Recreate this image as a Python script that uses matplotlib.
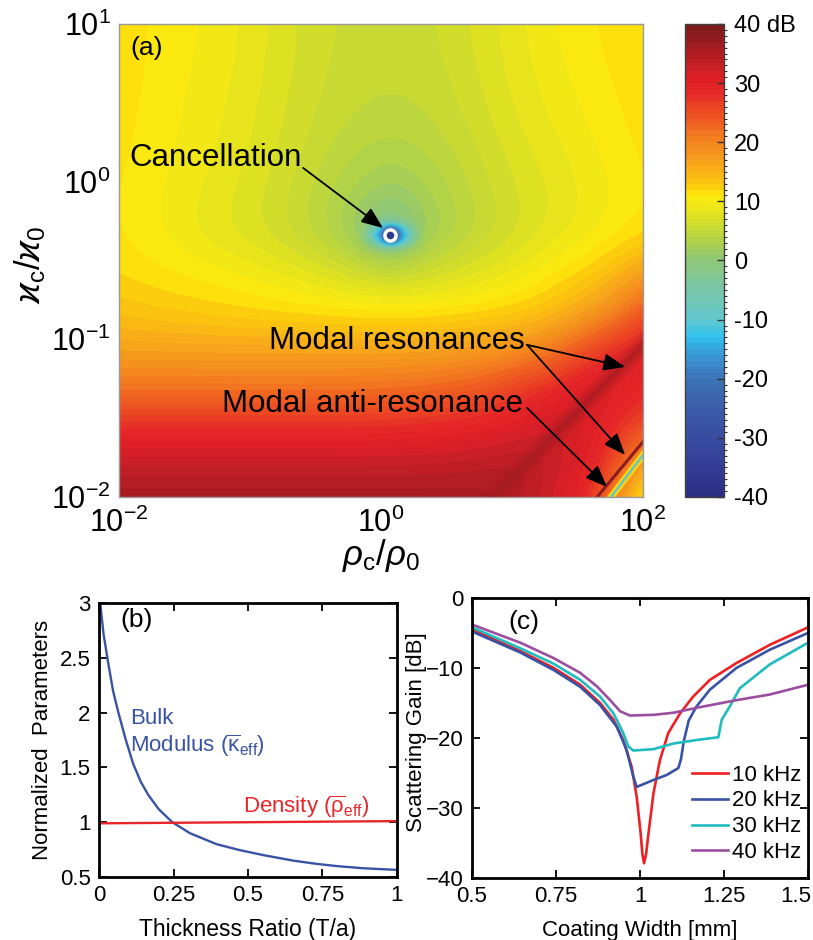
import numpy as np
import matplotlib
matplotlib.use("Agg")
import matplotlib.pyplot as plt
from matplotlib.colors import LinearSegmentedColormap, ListedColormap, BoundaryNorm
from matplotlib.ticker import FuncFormatter
from matplotlib.transforms import ScaledTranslation

plt.rcParams['font.family'] = ['Liberation Sans', 'DejaVu Sans']
plt.rcParams['mathtext.fontset'] = 'custom'
plt.rcParams['mathtext.rm'] = 'Liberation Sans'
plt.rcParams['mathtext.it'] = 'Liberation Sans:italic'
plt.rcParams['mathtext.bf'] = 'Liberation Sans:bold'
plt.rcParams['mathtext.fallback'] = 'stixsans'

# ── (a) scattering gain map, dB, read on a log10 grid ─────────────────────────
grid_log_rho = [-2.18, -1.93, -1.68, -1.43, -1.18, -0.93, -0.68, -0.43, -0.18,
                0.07, 0.32, 0.57, 0.82, 1.07, 1.32, 1.57, 1.82, 2.07]
grid_log_kappa = [1.16, 0.91, 0.66, 0.41, 0.16, -0.09, -0.34, -0.59, -0.84,
                  -1.09, -1.34, -1.59, -1.84, -2.09]          # top -> bottom
gain_map = [
    [12.3, 11.5, 10.65, 10.1, 9.4, 8.35, 7.15, 6.2, 5.7, 5.5, 5.7, 6.5, 7.65, 8.85, 9.95, 10.75, 11.5, 12.2],
    [12.3, 11.5, 10.65, 10.1, 9.4, 8.35, 7.15, 6.2, 5.6, 5.4, 5.6, 6.5, 7.65, 8.85, 9.95, 10.75, 11.5, 12.2],
    [12.2, 11.4, 10.55, 9.95, 9.2, 8.15, 6.95, 6.0, 5.4, 5.2, 5.4, 6.15, 7.35, 8.55, 9.6, 10.45, 11.2, 11.95],
    [12.0, 11.2, 10.45, 9.75, 8.95, 7.9, 6.75, 5.7, 4.9, 4.6, 4.9, 5.75, 6.95, 8.2, 9.2, 10.1, 10.9, 11.7],
    [11.8, 11.0, 10.3, 9.5, 8.7, 7.6, 6.4, 5.0, 3.9, 3.3, 3.8, 5.0, 6.3, 7.6, 8.6, 9.6, 10.5, 11.4],
    [11.5, 10.8, 10.0, 9.15, 8.2, 7.1, 5.85, 4.25, 2.6, 1.0, 2.55, 4.15, 5.8, 7.05, 8.1, 9.2, 10.2, 11.1],
    [11.5, 10.8, 10.0, 9.0, 8.0, 7.1, 5.7, 4.0, 1.0, -4.0, 1.2, 3.7, 5.5, 7.0, 8.4, 9.5, 10.7, 11.8],
    [12.2, 11.8, 11.2, 10.8, 10.3, 9.6, 8.8, 7.8, 6.6, 5.8, 6.4, 7.3, 8.4, 9.5, 11.0, 12.3, 14.5, 18.0],
    [14.0, 13.6, 13.1, 12.7, 12.3, 12.0, 11.7, 11.5, 11.3, 11.2, 11.3, 11.6, 12.0, 12.6, 14.0, 16.5, 20.5, 26.0],
    [17.0, 17.0, 17.0, 17.0, 17.0, 17.0, 17.0, 17.0, 17.0, 17.0, 17.2, 17.6, 18.3, 19.5, 22.0, 26.0, 30.0, 31.0],
    [22.0, 22.0, 22.0, 22.0, 22.0, 22.0, 22.0, 22.0, 22.2, 22.5, 23.0, 23.8, 25.0, 27.5, 29.5, 32.0, 30.5, 28.0],
    [29.0, 29.0, 29.0, 29.0, 29.0, 29.0, 29.0, 29.0, 29.0, 29.2, 29.5, 30.0, 30.3, 31.5, 33.0, 31.0, 27.5, 24.0],
    [34.0, 34.0, 34.0, 34.0, 34.0, 34.0, 34.0, 34.0, 34.0, 34.0, 34.0, 34.2, 34.8, 35.0, 32.5, 30.5, 24.0, 10.0],
    [36.5, 36.5, 36.5, 36.5, 36.5, 36.5, 36.5, 36.5, 36.5, 36.5, 36.5, 36.5, 35.5, 34.0, 31.5, 28.5, 15.0, 8.0],
]

# fine read of the cancellation dip (log10 coords, dB) and its blend weight
halo_log_rho = [-0.17, -0.09, -0.01, 0.07, 0.15, 0.23, 0.31]
halo_log_kappa = [-0.22, -0.28, -0.34, -0.40, -0.46]          # top -> bottom
halo_gain = [
    [-1.0, -2.0, -3.0, -3.5, -3.0, -2.0, -1.0],
    [-3.0, -6.0, -10.0, -14.0, -10.0, -6.0, -3.0],
    [-5.0, -10.0, -16.0, -45.0, -16.0, -10.0, -5.0],
    [-2.0, -5.0, -9.0, -13.0, -9.0, -5.0, -2.0],
    [1.5, 0.5, -1.0, -2.0, -1.0, 0.5, 1.5],
]
halo_weight = [
    [0, 0, 0, 0, 0, 0, 0],
    [0, 0.5, 1, 1, 1, 0.5, 0],
    [0, 1, 1, 1, 1, 1, 0],
    [0, 0.5, 1, 1, 1, 0.5, 0],
    [0, 0, 0, 0, 0, 0, 0],
]
cancel_log_rho, cancel_log_kappa = 0.07, -0.34

# modal features (log10 coords) and their levels in dB
res1_log_rho = [0.80, 2.10]
res1_log_kappa = [-2.05, -0.95]
res2_log_rho = [1.60, 2.05]
res2_log_kappa = [-2.05, -1.60]
anti_log_rho = [1.71, 2.05]
anti_log_kappa = [-2.05, -1.68]
res1_gain, res2_gain, anti_edge_gain, anti_core_gain = 36.5, 38.0, 12.0, -8.0

# colour scale anchors (dB -> colour)
cbar_db = [-40, -35, -30, -25, -20, -16, -13, -10, -5, 0, 3, 5, 7, 10, 11,
           12, 14, 15.5, 17.5, 20, 23, 26, 29, 31, 33, 35.5, 40]
cbar_hex = ['#2b2c83', '#333e95', '#394ca0', '#3b5daa', '#3c73b8', '#3a98d5',
            '#2ec3f0', '#62c8d0', '#78c6a8', '#8fc77a', '#abd04f', '#c3d838',
            '#d8df27', '#f6ea13', '#fee80c', '#fdd60b', '#fbbf12', '#f9ae18',
            '#f69c1d', '#f4851f', '#f06422', '#ec4425', '#e52628', '#dc1f26',
            '#c81f26', '#ab1c22', '#7a1a1c']
cbar_ticks = [-40, -30, -20, -10, 0, 10, 20, 30, 40]
cbar_labels = ['-40', '-30', '-20', '-10', '0', '10', '20', '30', '40 dB']

# ── (b) normalized parameters ────────────────────────────────────────────────
thickness_bulk = [0.004, 0.015, 0.031, 0.047, 0.065, 0.09, 0.115, 0.14, 0.165,
                  0.2, 0.246, 0.305, 0.394, 0.473, 0.551, 0.651, 0.73, 0.797,
                  0.886, 1.0]
bulk_modulus = [3.0, 2.72, 2.45, 2.2, 2.0, 1.75, 1.53, 1.37, 1.25, 1.12, 1.0,
                0.9, 0.8, 0.745, 0.7, 0.65, 0.62, 0.6, 0.58, 0.565]
thickness_rho = [0.0, 0.25, 0.5, 0.75, 1.0]
density = [0.99, 0.995, 1.0, 1.005, 1.01]

# ── (c) scattering gain vs coating width ─────────────────────────────────────
w10 = [0.5, 0.644, 0.743, 0.822, 0.881, 0.921, 0.95, 0.975, 0.99, 1.002, 1.007,
       1.012, 1.018, 1.025, 1.04, 1.059, 1.084, 1.119, 1.158, 1.208, 1.287,
       1.386, 1.5]
g10 = [-4.5, -7.6, -10.0, -12.4, -15.0, -17.4, -20.3, -24.1, -28.4, -33.7,
       -36.6, -37.9, -36.6, -33.7, -27.9, -23.2, -19.3, -16.5, -14.1, -11.7,
       -9.3, -6.7, -4.2]
w20 = [0.5, 0.644, 0.743, 0.822, 0.881, 0.931, 0.96, 0.98, 0.99, 1.04, 1.079,
       1.114, 1.122, 1.13, 1.145, 1.168, 1.208, 1.287, 1.386, 1.5]
g20 = [-4.8, -7.8, -10.3, -12.7, -15.3, -18.4, -21.7, -25.5, -27.0, -26.0,
       -25.3, -24.3, -23.0, -20.5, -17.5, -15.5, -13.1, -10.0, -7.4, -5.0]
w30 = [0.5, 0.644, 0.743, 0.822, 0.881, 0.921, 0.95, 0.965, 0.98, 1.04, 1.099,
       1.168, 1.233, 1.243, 1.267, 1.297, 1.386, 1.5]
g30 = [-4.2, -7.2, -9.4, -11.7, -14.1, -16.5, -19.3, -21.2, -21.8, -21.6,
       -20.8, -20.3, -19.9, -17.4, -15.5, -12.9, -9.5, -6.4]
w40 = [0.5, 0.644, 0.743, 0.822, 0.871, 0.911, 0.941, 0.97, 1.04, 1.099, 1.168,
       1.287, 1.386, 1.5]
g40 = [-3.8, -6.4, -8.6, -10.7, -12.6, -14.6, -16.2, -16.8, -16.7, -16.4, -15.7,
       -14.6, -13.8, -12.4]
freq_labels = ['10 kHz', '20 kHz', '30 kHz', '40 kHz']
freq_colors = ['#ed2024', '#3953a4', '#1fbcbf', '#9b4ea0']

# ── colour map: 1 dB bands ────────────────────────────────────────────────────
pos = [(v + 40) / 80 for v in cbar_db]
base = LinearSegmentedColormap.from_list('gain', list(zip(pos, cbar_hex)))
levels = np.arange(-40, 41, 1)
band_cmap = ListedColormap(base((levels[:-1] + 40.5) / 80))
band_cmap.set_under('white')
band_cmap.set_over(base(1.0))
norm = BoundaryNorm(levels, band_cmap.N)


def db_color(v):
    return base((v + 40) / 80)


def cell_extent(xs, ys):
    hx = abs(xs[1] - xs[0]) / 2
    hy = abs(ys[0] - ys[1]) / 2
    return (xs[0] - hx, xs[-1] + hx, ys[-1] - hy, ys[0] + hy)


fig = plt.figure(figsize=(8.13, 9.40), dpi=100)

# ── panel (a) ────────────────────────────────────────────────────────────────
ax = fig.add_axes([0.1464, 0.4713, 0.6445, 0.5032])
im = ax.imshow(np.array(gain_map), origin='upper', aspect='auto',
               extent=cell_extent(grid_log_rho, grid_log_kappa),
               cmap=band_cmap, norm=norm, interpolation='bicubic',
               interpolation_stage='data')
ax.imshow(np.array(halo_gain), origin='upper', aspect='auto',
          extent=cell_extent(halo_log_rho, halo_log_kappa),
          alpha=np.array(halo_weight, dtype=float),
          cmap=band_cmap, norm=norm, interpolation='bicubic',
          interpolation_stage='data')

# broad first modal resonance, soft edges
for lw, al in [(16, 0.12), (11, 0.2), (6, 0.3), (3, 0.35)]:
    ax.plot(res1_log_rho, res1_log_kappa, color=db_color(res1_gain), lw=lw,
            alpha=al, solid_capstyle='butt')
# anti-resonance and second resonance
ax.plot(anti_log_rho, anti_log_kappa, color=db_color(anti_edge_gain),
        lw=5, solid_capstyle='butt')
ax.plot(anti_log_rho, anti_log_kappa, color=db_color(anti_core_gain),
        lw=1.8, solid_capstyle='butt')
ax.plot(res2_log_rho, res2_log_kappa, color=db_color(res2_gain),
        lw=2.2, solid_capstyle='butt')
ax.plot([cancel_log_rho], [cancel_log_kappa], 'o', ms=8, mfc='#2e3a90',
        mec='white', mew=2.5)

ax.set_xlim(-2, 2)
ax.set_ylim(-2, 1)
ax.set_xticks([-2, 0, 2])
ax.set_yticks([-2, -1, 0, 1])
pow_fmt = FuncFormatter(lambda v, p: r'$\mathregular{10^{%d}}$' % round(v))
ax.xaxis.set_major_formatter(pow_fmt)
ax.yaxis.set_major_formatter(pow_fmt)
ax.tick_params(length=0, labelsize=22)
ax.tick_params(axis='x', pad=8)
ax.tick_params(axis='y', pad=6)
for s in ax.spines.values():
    s.set_color('#9a9a9a')
    s.set_linewidth(1)
ax.set_xlabel(r'$\rho_\mathregular{c}/\rho_\mathregular{0}$', fontsize=25)
ax.xaxis.set_label_coords(0.5, -0.085)
ax.set_ylabel(r'$\varkappa_\mathregular{c}/\varkappa_\mathregular{0}$', fontsize=25)
ax.yaxis.set_label_coords(-0.135, 0.49)

ax.text(0.021, 0.949, '(a)', transform=ax.transAxes, fontsize=19,
        ha='left', va='center')

arrow = dict(arrowstyle='-|>,head_length=0.6,head_width=0.24', color='black',
             lw=1.3, shrinkA=0, shrinkB=0, mutation_scale=22)
ax.text(-0.603, 0.15, 'Cancellation', fontsize=22.5, ha='right', va='center')
ax.annotate('', xy=(0.015, -0.294), xytext=(-0.595, 0.087), arrowprops=arrow)
ax.text(1.10, -1.01, 'Modal resonances', fontsize=22.5, ha='right', va='center')
ax.annotate('', xy=(1.863, -1.175), xytext=(1.115, -1.035), arrowprops=arrow)
ax.annotate('', xy=(1.863, -1.733), xytext=(1.115, -1.035), arrowprops=arrow)
ax.text(1.084, -1.41, 'Modal anti-resonance', fontsize=22.5, ha='right',
        va='center')
ax.annotate('', xy=(1.725, -1.936), xytext=(1.115, -1.435), arrowprops=arrow)

# colour bar
cax = fig.add_axes([0.8426, 0.4713, 0.048, 0.5032])
cb = fig.colorbar(im, cax=cax, ticks=cbar_ticks)
cb.ax.set_yticklabels(cbar_labels)
cb.ax.tick_params(direction='in', length=5, width=1, color='#333333',
                  labelsize=17, pad=7)
cb.outline.set_edgecolor('#404040')
cb.outline.set_linewidth(1)

# ── panel (b) ────────────────────────────────────────────────────────────────
axb = fig.add_axes([0.1218, 0.0670, 0.3665, 0.2915])
axb.plot(thickness_bulk, bulk_modulus, color='#3953a4', lw=1.7)
axb.plot(thickness_rho, density, color='#e8262a', lw=1.7)
axb.set_xlim(0, 1)
axb.set_ylim(0.5, 3)
axb.set_xticks([0, 0.25, 0.5, 0.75, 1])
axb.set_xticklabels(['0', '0.25', '0.5', '0.75', '1'])
axb.set_yticks([0.5, 1, 1.5, 2, 2.5, 3])
axb.set_yticklabels(['0.5', '1', '1.5', '2', '2.5', '3'])
axb.set_xlabel('Thickness Ratio (T/a)', fontsize=16.5)
axb.xaxis.set_label_coords(0.5, -0.15)
axb.set_ylabel('Normalized  Parameters', fontsize=16)
axb.yaxis.set_label_coords(-0.155, 0.5)
axb.text(0.07, 0.938, '(b)', transform=axb.transAxes, fontsize=19,
         ha='left', va='center')
axb.text(0.104, 1.81, 'Bulk\n' + r'Modulus ($\overline{\mathregular{\kappa}}_\mathregular{eff}$)',
         color='#3953a4', fontsize=16, ha='left', va='center', linespacing=1.15)
axb.text(0.484, 1.14, r'Density ($\overline{\mathregular{\rho}}_\mathregular{eff}$)',
         color='#e8262a', fontsize=16, ha='left', va='center')

# ── panel (c) ────────────────────────────────────────────────────────────────
axc = fig.add_axes([0.5806, 0.066, 0.4133, 0.2979])
for w, g, lab, col in zip([w10, w20, w30, w40], [g10, g20, g30, g40],
                          freq_labels, freq_colors):
    axc.plot(w, g, color=col, lw=1.9, label=lab)
axc.set_xlim(0.5, 1.5)
axc.set_ylim(-40, 0)
axc.set_xticks([0.5, 0.75, 1, 1.25, 1.5])
axc.set_xticklabels(['0.5', '0.75', '1', '1.25', '1.5'])
axc.set_yticks([-40, -30, -20, -10, 0])
axc.set_xlabel('Coating Width [mm]', fontsize=16)
axc.xaxis.set_label_coords(0.5, -0.15)
axc.set_ylabel('Scattering Gain [dB]', fontsize=16)
axc.yaxis.set_label_coords(-0.135, 0.52)
axc.text(0.107, 0.914, '(c)', transform=axc.transAxes, fontsize=19,
         ha='left', va='center')
axc.legend(loc='upper left', bbox_to_anchor=(0.655, 0.405), frameon=False,
           fontsize=16, handlelength=1.6, handletextpad=0.2, labelspacing=0.22,
           borderpad=0, borderaxespad=0)

for a in (axb, axc):
    a.tick_params(direction='in', length=6, width=1.3, top=True, right=True,
                  labelsize=16, pad=6)
    for s in a.spines.values():
        s.set_linewidth(2)

# keep the last x tick label of (c) inside the figure
last = axc.get_xticklabels()[-1]
last.set_transform(last.get_transform() +
                   ScaledTranslation(-0.12, 0, fig.dpi_scale_trans))

fig.savefig('out.png', dpi=100)
